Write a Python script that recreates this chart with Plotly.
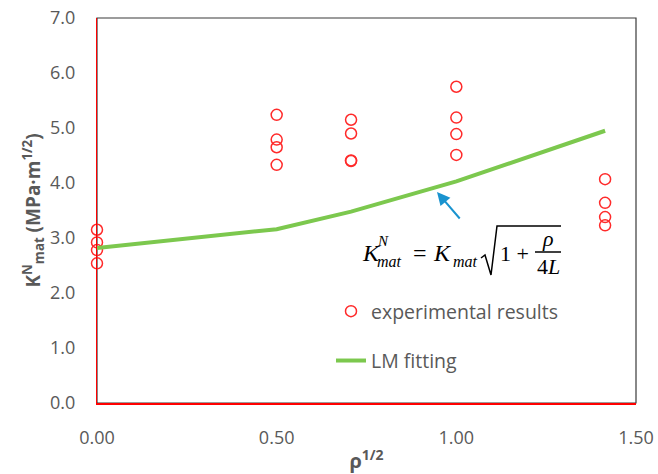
import plotly.graph_objects as go

# ---- data ----
rho_sqrt = [0.0, 0.5, 0.707, 1.0, 1.414]
exp_group_0 = [3.15, 2.92, 2.78, 2.54]
exp_group_05 = [5.24, 4.79, 4.65, 4.33]
exp_group_071 = [5.15, 4.90, 4.41, 4.40]
exp_group_1 = [5.75, 5.19, 4.89, 4.51]
exp_group_141 = [4.07, 3.64, 3.38, 3.23]
lm_fit = [2.82, 3.16, 3.48, 4.03, 4.95]

x_ticks = [0.0, 0.5, 1.0, 1.5]
x_ticktext = ["0.00", "0.50", "1.00", "1.50"]
y_ticks = [0, 1, 2, 3, 4, 5, 6, 7]
y_ticktext = ["0.0", "1.0", "2.0", "3.0", "4.0", "5.0", "6.0", "7.0"]

groups = [exp_group_0, exp_group_05, exp_group_071, exp_group_1, exp_group_141]
exp_x = []
exp_y = []
for xv, g in zip(rho_sqrt, groups):
    for v in g:
        exp_x.append(xv)
        exp_y.append(v)

W, H = 658, 474
ML, MR, MT, MB = 97, 22, 18, 71
X0, X1 = 0.0, 1.5
Y0, Y1 = 0.0, 7.0
PW = W - ML - MR
PH = H - MT - MB


def dx(px):
    return X0 + (px - ML) / PW * (X1 - X0)


def dy(py):
    return Y0 + (H - MB - py) / PH * (Y1 - Y0)


GRAY = "#595959"
FONT = "Open Sans"
SERIF = "Liberation Serif"

fig = go.Figure()
fig.add_trace(go.Scatter(
    x=exp_x, y=exp_y, mode="markers", name="experimental results",
    marker=dict(symbol="circle-open", size=11, color="#FF2A2A",
                line=dict(width=1.5, color="#FF2A2A")),
    cliponaxis=False, legendgroup="a",
))
fig.add_trace(go.Scatter(
    x=rho_sqrt, y=lm_fit, mode="lines", name="LM fitting",
    line=dict(color="#7CC84E", width=4),
    cliponaxis=False, legendgroup="b",
))

annotations = []


def txt(text, px, py, size, xanchor="left"):
    annotations.append(dict(
        text=text, x=dx(px), y=dy(py), xref="x", yref="y",
        showarrow=False, xanchor=xanchor, yanchor="middle",
        font=dict(family=SERIF, size=size, color="#000000"),
    ))


# equation
txt("<i>K</i>", 360, 253, 24)
txt("<i>N</i>", 375, 241, 15)
txt("<i>mat</i>", 375, 261, 16)
txt("=", 411, 253, 24)
txt("<i>K</i>", 431, 253, 24)
txt("<i>mat</i>", 451, 261, 16)
txt("1 +", 498, 253, 22)
txt("<i>ρ</i>", 548, 238, 22, xanchor="center")
txt("4<i>L</i>", 548, 266, 22, xanchor="center")

# arrow
annotations.append(dict(
    x=dx(437), y=dy(192), ax=dx(461), ay=dy(220),
    xref="x", yref="y", axref="x", ayref="y",
    text="", showarrow=True, arrowhead=2, arrowsize=1.3, arrowwidth=2,
    arrowcolor="#1A93CF",
))

shapes = [
    # plot frame (top/right dark)
    dict(type="rect", xref="paper", yref="paper", x0=0, x1=1, y0=0, y1=1,
         line=dict(color="#3a3a3a", width=1.2), layer="below"),
    # radical sign
    dict(type="path", xref="x", yref="y",
         path=f"M{dx(481)},{dy(258)} L{dx(485)},{dy(255)} L{dx(491)},{dy(275)} "
              f"L{dx(497)},{dy(226)} L{dx(561)},{dy(226)}",
         line=dict(color="#000000", width=1.5)),
    # fraction bar
    dict(type="line", xref="x", yref="y", x0=dx(535), x1=dx(561),
         y0=dy(252), y1=dy(252), line=dict(color="#000000", width=1.5)),
]

fig.update_layout(
    width=W, height=H,
    margin=dict(l=ML, r=MR, t=MT, b=MB, pad=0),
    paper_bgcolor="white", plot_bgcolor="white",
    font=dict(family=FONT, color=GRAY),
    showlegend=True,
    legend=dict(x=dx(331) / 1.5, y=(H - MB - 292) / PH, xanchor="left", yanchor="top",
                bgcolor="rgba(0,0,0,0)", font=dict(size=19.5, color=GRAY, family=FONT),
                tracegroupgap=21, traceorder="grouped", itemwidth=30),
    annotations=annotations,
    shapes=shapes,
)
fig.update_xaxes(
    range=[X0, X1], tickvals=x_ticks, ticktext=x_ticktext,
    showline=True, linecolor="#FF0000", linewidth=1.5, showgrid=False, zeroline=False,
    ticks="", tickfont=dict(size=18, color=GRAY, family=FONT), ticklabelstandoff=18,
    title=dict(text="<b>ρ<sup>1/2</sup></b>", font=dict(size=20, color=GRAY, family=FONT), standoff=8),
    automargin=False,
)
fig.update_yaxes(
    range=[Y0, Y1], tickvals=y_ticks, ticktext=y_ticktext,
    showline=True, linecolor="#FF0000", linewidth=1.2, showgrid=False, zeroline=False,
    ticks="", tickfont=dict(size=18, color=GRAY, family=FONT), ticklabelstandoff=17,
    title=dict(text="<b>K<sup>N</sup><sub>mat</sub> (MPa·m<sup>1/2</sup>)</b>",
               font=dict(size=19, color=GRAY, family=FONT), standoff=4),
    automargin=False,
)

fig.write_html("out.html", config={"displayModeBar": False},
               post_script="document.body.style.margin='0';document.body.style.overflow='hidden';")
